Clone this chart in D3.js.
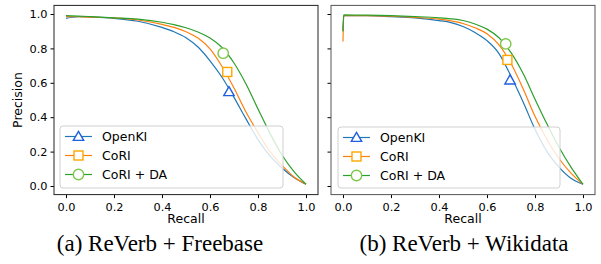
<!DOCTYPE html>
<html><head><meta charset="utf-8">
<script src="https://cdn.jsdelivr.net/npm/d3@7"></script>
<style>body{margin:0;background:#fff}svg{display:block}</style>
</head><body>
<svg id="c" width="601" height="264"></svg>
<script>
// ---- data ----
const seriesNames = ["OpenKI", "CoRI", "CoRI + DA"];
const xTicks = [0.0, 0.2, 0.4, 0.6, 0.8, 1.0];
const yTicks = [0.0, 0.2, 0.4, 0.6, 0.8, 1.0];
const captions = ["(a) ReVerb + Freebase", "(b) ReVerb + Wikidata"];

const recallA = [0, 0.05, 0.1, 0.2, 0.3, 0.4, 0.45, 0.5, 0.55, 0.6, 0.65, 0.7, 0.75, 0.8, 0.85, 0.9, 0.95, 1.0];
const openkiA = [0.975, 0.984, 0.982, 0.975, 0.958, 0.922, 0.897, 0.862, 0.808, 0.728, 0.632, 0.515, 0.39, 0.27, 0.175, 0.105, 0.05, 0.01];
const coriA   = [0.985, 0.984, 0.982, 0.977, 0.965, 0.94, 0.922, 0.897, 0.86, 0.797, 0.695, 0.57, 0.43, 0.31, 0.2, 0.12, 0.052, 0.01];
const coriDaA = [0.99, 0.988, 0.985, 0.978, 0.97, 0.952, 0.938, 0.92, 0.895, 0.86, 0.805, 0.715, 0.593, 0.448, 0.306, 0.18, 0.083, 0.01];

const recallB = [0, 0.003, 0.1, 0.2, 0.3, 0.4, 0.45, 0.5, 0.55, 0.6, 0.65, 0.7, 0.75, 0.8, 0.85, 0.9, 0.95, 1.0];
const openkiB = [0.9, 0.99, 0.99, 0.985, 0.978, 0.962, 0.95, 0.927, 0.892, 0.845, 0.77, 0.638, 0.49, 0.33, 0.2, 0.11, 0.045, 0.01];
const coriB   = [0.84, 0.99, 0.99, 0.987, 0.98, 0.97, 0.96, 0.945, 0.92, 0.885, 0.82, 0.712, 0.567, 0.405, 0.27, 0.16, 0.075, 0.01];
const coriDaB = [0.9, 0.995, 0.993, 0.99, 0.985, 0.978, 0.972, 0.962, 0.942, 0.912, 0.862, 0.775, 0.655, 0.505, 0.36, 0.225, 0.11, 0.01];

// highlighted operating points [recall, precision]
const markA = [[0.679, 0.548], [0.672, 0.663], [0.655, 0.772]];
const markB = [[0.696, 0.616], [0.685, 0.733], [0.678, 0.826]];

const lineColors = ["#1f77b4", "#ff7f0e", "#2ca02c"];
const markColors = ["#1f5fe0", "#ffa500", "#7cc84a"];
const markShapes = ["triangle", "square", "circle"];

// ---- drawing ----
const svg = d3.select("#c");
const panels = [
  {x0: 54, x1: 318, rec: recallA, ys: [openkiA, coriA, coriDaA], marks: markA, labels: true, spine: "#222",
   legend: {x: 60, y: 126, w: 223, h: 62}, cap: 160},
  {x0: 331, x1: 595, rec: recallB, ys: [openkiB, coriB, coriDaB], marks: markB, labels: false, spine: "#555",
   legend: {x: 338, y: 127, w: 222, h: 61}, cap: 464}
];
const plotTop = 5.4, plotBottom = 194.6;

function drawMarker(g, shape, cx, cy, color) {
  if (shape === "triangle") {
    const s = 5.2;
    g.append("path").attr("d", `M${cx},${cy - s}L${cx + s},${cy + s * 0.75}L${cx - s},${cy + s * 0.75}Z`)
      .attr("fill", "#fff").attr("stroke", color).attr("stroke-width", 1.4);
  } else if (shape === "square") {
    g.append("rect").attr("x", cx - 4.5).attr("y", cy - 4.5).attr("width", 9).attr("height", 9)
      .attr("fill", "#fff").attr("stroke", color).attr("stroke-width", 1.4);
  } else {
    g.append("circle").attr("cx", cx).attr("cy", cy).attr("r", 5.2)
      .attr("fill", "#fff").attr("stroke", color).attr("stroke-width", 1.4);
  }
}

panels.forEach((p, pi) => {
  const x = d3.scaleLinear().domain([-0.05, 1.05]).range([p.x0, p.x1]);
  const y = d3.scaleLinear().domain([-0.05, 1.05]).range([plotBottom, plotTop]);
  const g = svg.append("g");

  p.ys.forEach((vals, si) => {
    const pts = p.rec.map((r, i) => [r, vals[i]]);
    g.append("path").datum(pts)
      .attr("d", d3.line().x(d => x(d[0])).y(d => y(d[1])).curve(d3.curveMonotoneX))
      .attr("fill", "none").attr("stroke", lineColors[si]).attr("stroke-width", 1.2);
  });
  p.marks.forEach((m, si) => drawMarker(g, markShapes[si], x(m[0]), y(m[1]), markColors[si]));

  const L = p.legend;
  g.append("rect").attr("x", L.x).attr("y", L.y).attr("width", L.w).attr("height", L.h)
    .attr("rx", 3).attr("fill", "#fff").attr("fill-opacity", 0.8).attr("stroke", "#d0d0d0").attr("stroke-width", 1);
  seriesNames.forEach((name, si) => {
    const ly = L.y + 10.5 + si * 19;
    g.append("line").attr("x1", L.x + 5).attr("x2", L.x + 32).attr("y1", ly).attr("y2", ly)
      .attr("stroke", lineColors[si]).attr("stroke-width", 1.2);
    drawMarker(g, markShapes[si], L.x + 18.5, ly, markColors[si]);
    g.append("text").attr("x", L.x + 42).attr("y", ly).attr("dy", "0.36em")
      .attr("font-family", "DejaVu Sans").attr("font-size", 12.5).attr("fill", "#000").text(name);
  });

  const ax = g.append("g").attr("transform", `translate(0,${plotBottom})`)
    .call(d3.axisBottom(x).tickValues(xTicks).tickFormat(d3.format(".1f")).tickSize(3.5).tickSizeOuter(0));
  ax.select(".domain").remove();
  ax.selectAll("text").attr("font-family", "DejaVu Sans").attr("font-size", 11.3).attr("fill", "#000").attr("dy", "0.9em");
  const ay = g.append("g").attr("transform", `translate(${p.x0},0)`)
    .call(d3.axisLeft(y).tickValues(yTicks).tickFormat(p.labels ? d3.format(".1f") : () => "").tickSize(3.5).tickSizeOuter(0));
  ay.select(".domain").remove();
  ay.selectAll("text").attr("font-family", "DejaVu Sans").attr("font-size", 11.3).attr("fill", "#000");

  g.append("rect").attr("x", p.x0).attr("y", plotTop).attr("width", p.x1 - p.x0).attr("height", plotBottom - plotTop)
    .attr("fill", "none").attr("stroke", p.spine).attr("stroke-width", 1);

  g.append("text").attr("x", (p.x0 + p.x1) / 2).attr("y", 223).attr("text-anchor", "middle")
    .attr("font-family", "DejaVu Sans").attr("font-size", 12.5).text("Recall");
  if (p.labels) {
    g.append("text").attr("transform", `translate(22,${(plotTop + plotBottom) / 2}) rotate(-90)`).attr("text-anchor", "middle")
      .attr("font-family", "DejaVu Sans").attr("font-size", 12.5).text("Precision");
  }
  svg.append("text").attr("x", p.cap).attr("y", 251).attr("text-anchor", "middle")
    .attr("font-family", "Liberation Serif").attr("font-size", 23).text(captions[pi]);
});
</script>
</body></html>
